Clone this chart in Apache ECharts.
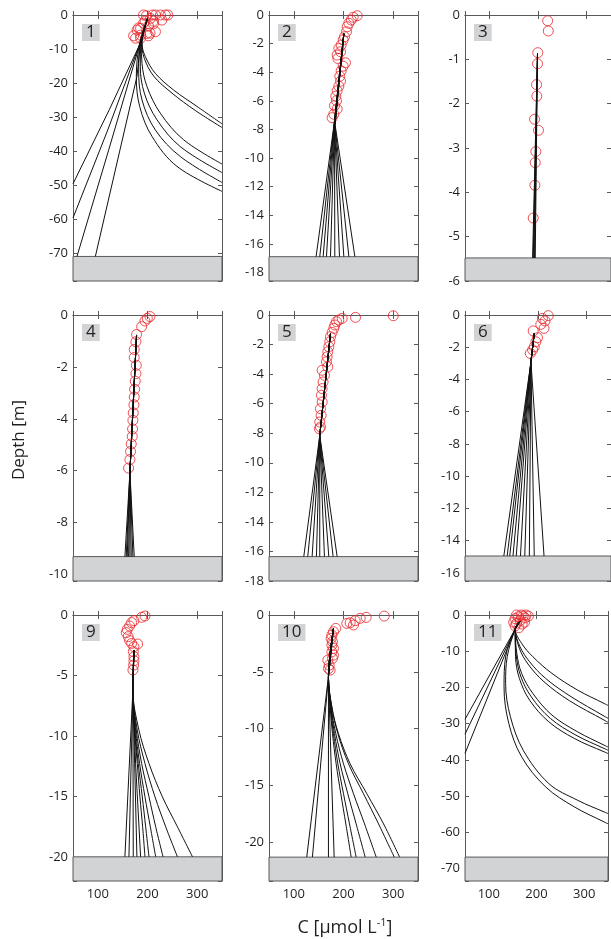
<!DOCTYPE html>
<html><head><meta charset="utf-8">
<script src="https://cdn.jsdelivr.net/npm/echarts@6/dist/echarts.min.js"></script>
<style>html,body{margin:0;padding:0;background:#fff}#c{width:611px;height:939px}</style>
</head><body><div id="c"></div>
<script>
// ---------------- data ----------------
const panelNames = ['1','2','3','4','5','6','9','10','11'];
const concRange = [50, 350];
const concTicks = [100, 200, 300];
const depthRange = [-78, -18.6, -6, -10.25, -18, -16.5, -22, -23.4, -73.4];
const depthStep  = [10, 2, 1, 2, 2, 2, 5, 5, 10];
const bedDepth   = [-70.8, -16.9, -5.48, -9.31, -16.35, -14.95, -20, -21.3, -66.8];

const p1Obs = [[192,0],[198,-0.2],[210,0],[216,0],[226,0],[236,0],[241,0],[195,-1.8],[206,-1],[212,-1.8],[229,-1.5],[192,-2.4],[212,-2.6],[182,-3.8],[202,-3.2],[186,-3.9],[216,-4.9],[179,-4.4],[199,-5.4],[205,-5.3],[186,-5.9],[172,-6.1],[202,-6.1],[186,-6.8],[176,-6.8]];
const p1Model = [
 [[200,-1],[185.5,-8.3],[123,-27.8],[50,-49.5]],
 [[200,-1],[185,-8.3],[120,-33.7],[50,-59.5]],
 [[200,-1],[185,-8.3],[122,-39.5],[58,-70.8]],
 [[200,-1],[186,-8.3],[178.8,-18],[95,-70.8]],
 [[200,-1],[188.9,-8.3],[195.6,-12.2],[215.7,-17.1],[252.6,-22],[299.6,-26.8],[350,-31.9]],
 [[200,-1],[188.9,-8.3],[193.6,-12.7],[212.4,-17.9],[249.3,-22.9],[296.3,-28],[350,-33]],
 [[200,-1],[187.6,-8.3],[188.9,-14.2],[199,-21],[225.8,-28.8],[272.8,-36.6],[350,-43.7]],
 [[200,-1],[186.9,-8.3],[185.5,-15.1],[193.6,-22.9],[219,-30.7],[266,-38.6],[350,-46.2]],
 [[200,-1],[185.5,-8.3],[182.2,-16.1],[188.9,-24.9],[215.7,-33.7],[266,-41.5],[350,-49.1]],
 [[200,-1],[184.2,-8.3],[177.5,-18],[184.2,-26.8],[209,-35.6],[259.4,-44.4],[350,-51.7]]
];

const p2Obs = [[227.6,-0.05],[219.5,-0.16],[215.5,-0.35],[210.8,-0.58],[207.4,-0.82],[206,-1.17],[202,-1.52],[199.3,-1.75],[195.3,-2.1],[190.6,-2.34],[194,-2.57],[187.2,-2.8],[188.6,-3.04],[204,-3.34],[199.3,-3.58],[195.3,-3.9],[192.6,-4.28],[194,-4.63],[190.6,-4.98],[187.2,-5.3],[184.5,-5.68],[185.9,-6],[181.8,-6.34],[187.2,-6.57],[180.5,-6.94],[177.1,-7.18]];
const p2Model = [
 [[200.7,-1.3],[180.8,-7.7],[144.8,-16.9]],
 [[200.7,-1.3],[181,-7.7],[152.2,-16.9]],
 [[200.7,-1.3],[181.2,-7.7],[159,-16.9]],
 [[200.7,-1.3],[181.5,-7.7],[165.7,-16.9]],
 [[200.7,-1.3],[181.7,-7.7],[173.8,-16.9]],
 [[200.7,-1.3],[182,-7.7],[182.5,-16.9]],
 [[200.7,-1.3],[182.2,-7.7],[191.9,-16.9]],
 [[200.7,-1.3],[182.5,-7.7],[200.7,-16.9]],
 [[200.7,-1.3],[182.8,-7.7],[210.8,-16.9]],
 [[200.7,-1.3],[183.2,-7.7],[222.9,-16.9]]
];

const p3Obs = [[219.8,-0.13],[221.1,-0.36],[199.6,-0.85],[199,-1.1],[197,-1.57],[197.6,-1.83],[192.9,-2.35],[201,-2.6],[195.6,-3.08],[194.3,-3.33],[193.6,-3.84],[190.2,-4.58]];
const p3Model = [
 [[199,-0.87],[188.9,-5.48]],
 [[199,-0.87],[190.2,-5.48]],
 [[199,-0.87],[191.6,-5.48]],
 [[199,-0.87],[192.9,-5.48]],
 [[199,-0.87],[194.3,-5.48]]
];

const p4Obs = [[205,-0.06],[199.6,-0.13],[194.9,-0.23],[188.2,-0.45],[178,-0.75],[176.7,-1.03],[173.3,-1.33],[173.3,-1.64],[177.4,-1.94],[176.7,-2.26],[175.4,-2.55],[174,-2.86],[173.3,-3.16],[172.7,-3.46],[171.3,-3.77],[170.6,-4.06],[170,-4.39],[169.3,-4.68],[167.3,-4.97],[165.9,-5.26],[164.6,-5.57],[161.9,-5.9]];
const p4Model = [
 [[178,-0.77],[164.6,-6.06],[154.5,-9.31]],
 [[178,-0.77],[164.6,-6.06],[157.2,-9.31]],
 [[178,-0.77],[164.6,-6.06],[159.2,-9.31]],
 [[178,-0.77],[164.6,-6.06],[161.9,-9.31]],
 [[178,-0.77],[164.6,-6.06],[164.6,-9.31]],
 [[178,-0.77],[164.6,-6.06],[167.3,-9.31]],
 [[178,-0.77],[164.6,-6.06],[170.6,-9.31]],
 [[178,-0.77],[164.6,-6.06],[173.3,-9.31]]
];

const p5Obs = [[300.2,-0.05],[224.2,-0.16],[197.3,-0.23],[190.6,-0.34],[185.9,-0.45],[182.5,-0.68],[180.5,-0.9],[177.1,-1.18],[173.8,-1.47],[172.4,-1.81],[170.4,-2.15],[168.4,-2.49],[167,-2.83],[165.7,-3.17],[168.4,-3.51],[157,-3.74],[161.6,-4.08],[158.9,-4.53],[157,-4.98],[155.6,-5.43],[157,-5.89],[153.6,-6.34],[155,-6.79],[152.2,-7.24],[153.6,-7.58],[151.5,-7.7]];
const p5Model = [
 [[173.8,-1.25],[152.2,-8.15],[120,-16.35]],
 [[173.8,-1.25],[152.2,-8.15],[128,-16.35]],
 [[173.8,-1.25],[152.2,-8.15],[136.8,-16.35]],
 [[173.8,-1.25],[152.2,-8.15],[145.5,-16.35]],
 [[173.8,-1.25],[152.2,-8.15],[152.2,-16.35]],
 [[173.8,-1.25],[152.2,-8.15],[161.6,-16.35]],
 [[173.8,-1.25],[152.2,-8.15],[170.4,-16.35]],
 [[173.8,-1.25],[152.2,-8.15],[179.1,-16.35]],
 [[173.8,-1.25],[152.2,-8.15],[187.2,-16.35]]
];

const p6Obs = [[221.1,-0.04],[209,-0.21],[214.4,-0.37],[205.7,-0.58],[212.4,-0.83],[190.2,-0.99],[199,-1.41],[195.6,-1.66],[192.3,-1.97],[188.9,-2.17],[184.2,-2.38]];
const p6Model = [
 [[192.3,-1.14],[185.5,-2.9],[129.8,-14.95]],
 [[192.3,-1.14],[185.5,-2.9],[136.6,-14.95]],
 [[192.3,-1.14],[185.5,-2.9],[141.9,-14.95]],
 [[192.3,-1.14],[185.5,-2.9],[148.6,-14.95]],
 [[192.3,-1.14],[185.5,-2.9],[155.3,-14.95]],
 [[192.3,-1.14],[185.5,-2.9],[164,-14.95]],
 [[192.3,-1.14],[185.5,-2.9],[172.8,-14.95]],
 [[192.3,-1.14],[185.5,-2.9],[182.2,-14.95]],
 [[192.3,-1.14],[185.5,-2.9],[192.3,-14.95]],
 [[192.3,-1.14],[185.5,-2.9],[212.4,-14.95]]
];

const p9Obs = [[194.9,-0.08],[188.2,-0.19],[172.7,-0.47],[168,-0.63],[164,-0.91],[159.2,-1.19],[157.2,-1.46],[161.2,-1.79],[164,-2.12],[168,-2.35],[180.1,-2.4],[172.7,-2.62],[171.4,-3.03],[172.7,-3.45],[172.7,-3.78],[172.1,-4.14],[170.7,-4.55]];
const p9Model = [
 [[172.7,-2.9],[170.6,-6.21],[154.5,-20]],
 [[172.7,-2.9],[170.6,-6.21],[162.6,-20]],
 [[172.7,-2.9],[170.6,-6.21],[171.3,-20]],
 [[172.7,-2.9],[170.6,-6.21],[178.7,-20]],
 [[172.7,-2.9],[170.6,-6.21],[176,-12.28],[186.1,-20]],
 [[172.7,-2.9],[170.6,-6.21],[174,-9.52],[179.4,-12.28],[184.8,-15.04],[190.2,-17.52],[194.9,-20]],
 [[172.7,-2.9],[170.6,-6.21],[174.7,-9.52],[181.4,-12.28],[189.5,-15.04],[196.3,-17.52],[203,-20]],
 [[172.7,-2.9],[170.6,-6.21],[176,-9.52],[184.1,-12.28],[194.9,-15.04],[205.7,-17.52],[216.5,-20]],
 [[172.7,-2.9],[170.6,-6.21],[177.4,-9.52],[188.2,-12.28],[203,-15.04],[216.5,-17.52],[231.3,-20]],
 [[172.7,-2.9],[170.6,-6.21],[179.4,-9.52],[194.9,-12.28],[215.1,-15.04],[236.7,-17.52],[260.3,-20]],
 [[172.7,-2.9],[170.6,-6.21],[182.8,-9.52],[203,-12.28],[230,-15.04],[260.3,-17.52],[290.6,-20]]
];

const p10Obs = [[282,-0.09],[245.7,-0.21],[233.6,-0.29],[223.5,-0.5],[213.4,-0.68],[206.7,-0.74],[220.1,-0.88],[184.5,-1.18],[179.8,-1.47],[176.5,-1.76],[175.1,-2.06],[177.8,-2.35],[176.5,-2.65],[179.8,-2.94],[176.5,-3.24],[179.8,-3.53],[177.8,-3.82],[168.4,-3.97],[171.1,-4.41],[169.7,-4.71],[173.1,-4.85]];
const p10Model = [
 [[179.8,-1.18],[169.7,-5.44],[126,-21.3]],
 [[179.8,-1.18],[169.7,-5.44],[137.4,-21.3]],
 [[179.8,-1.18],[169.7,-5.44],[169.7,-21.3]],
 [[179.8,-1.18],[169.7,-5.44],[175,-13],[181.2,-21.3]],
 [[179.8,-1.18],[169.7,-5.44],[173.1,-8.09],[177.8,-10.44],[185.2,-13.09],[194.6,-15.73],[204.7,-18.38],[215.5,-21.3]],
 [[179.8,-1.18],[169.7,-5.44],[173.8,-8.09],[179.8,-10.44],[188.6,-13.09],[200,-15.73],[212.1,-18.38],[225.5,-21.3]],
 [[179.8,-1.18],[169.7,-5.44],[174.4,-8.09],[181.8,-10.44],[193.3,-13.09],[208.7,-15.73],[225.5,-18.38],[243.7,-21.3]],
 [[179.8,-1.18],[169.7,-5.44],[175.1,-8.09],[184.5,-10.44],[200,-13.09],[220.2,-15.73],[242.4,-18.38],[265.9,-21.3]],
 [[179.8,-1.18],[169.7,-5.44],[176.5,-8.09],[188.6,-10.44],[210.1,-13.09],[240.3,-15.73],[270.6,-18.38],[302.2,-21.3]],
 [[179.8,-1.18],[169.7,-5.44],[176.5,-8.09],[189.9,-10.44],[213.4,-13.09],[247.1,-15.73],[280.7,-18.38],[313,-21.3]]
];

const p11Obs = [[158,0],[168,0],[178,0],[162,-0.5],[172,-0.3],[155,-1],[166,-1.5],[176,-0.8],[158,-2.3],[170,-2.5],[163,-3.5],[155,-3],[175,-2],[152,-2],[183,-0.3]];
const p11Model = [
 [[165,-1.8],[155.3,-3.9],[50,-28.8]],
 [[165,-1.8],[155.3,-3.9],[50,-32.9]],
 [[165,-1.8],[155.3,-3.9],[50,-38.2]],
 [[165,-1.8],[155.3,-3.9],[168.8,-7.83],[192.3,-11.51],[232.5,-16.12],[286.2,-20.72],[341.9,-24.41],[350,-24.96]],
 [[165,-1.8],[155.3,-3.9],[165.4,-8.75],[185.5,-12.89],[219.1,-17.5],[272.8,-22.56],[341.9,-27.9],[350,-28.5]],
 [[165,-1.8],[155.3,-3.9],[164.1,-9.21],[182.2,-13.54],[215.7,-18.42],[269.4,-23.67],[341.9,-29.01],[350,-29.6]],
 [[165,-1.8],[155.3,-3.9],[158.7,-10.59],[168.8,-16.12],[192.3,-21.64],[232.5,-27.63],[286.2,-32.24],[341.9,-35.92],[350,-36.45]],
 [[165,-1.8],[155.3,-3.9],[157.4,-11.05],[166.8,-16.85],[188.9,-22.56],[229.2,-28.55],[282.8,-33.16],[341.9,-36.84],[350,-37.3]],
 [[165,-1.8],[155.3,-3.9],[156,-11.51],[164.1,-17.5],[185.5,-23.49],[225.8,-29.47],[279.5,-34.08],[341.9,-37.76],[350,-38.2]],
 [[165,-1.8],[155.3,-3.9],[138.6,-11.51],[135.2,-18.88],[145.3,-28.09],[172.1,-37.3],[225.8,-46.51],[286.2,-51.12],[341.9,-54.34],[350,-54.8]],
 [[165,-1.8],[155.3,-3.9],[135.2,-11.51],[131.9,-19.8],[141.9,-29.93],[168.8,-39.14],[219.1,-47.43],[279.5,-52.96],[341.9,-57.1],[350,-57.6]]
];

const observed = [p1Obs, p2Obs, p3Obs, p4Obs, p5Obs, p6Obs, p9Obs, p10Obs, p11Obs];
const modelled = [p1Model, p2Model, p3Model, p4Model, p5Model, p6Model, p9Model, p10Model, p11Model];

// ---------------- layout & style ----------------
const colLeft = [73, 269, 465], rowTop = [15, 315, 615], PW = 149, PH = 266;
const FONT = 'Open Sans';
const frameColor = '#58595b', textColor = '#231f20', obsColor = '#e8262b', bedColor = '#d1d3d4';

const grid = [], xAxis = [], yAxis = [], series = [], title = [];
const isMultiple = (v, s) => Math.abs(v / s - Math.round(v / s)) < 1e-6;
const concStep = concTicks[1] - concTicks[0];

panelNames.forEach((name, i) => {
  const r = Math.floor(i / 3), c = i % 3;
  grid.push({ left: colLeft[c], top: rowTop[r], width: PW, height: PH, containLabel: false });
  const line = { show: true, lineStyle: { color: frameColor, width: 1 } };
  const tick = { show: true, inside: true, length: 4, lineStyle: { color: frameColor, width: 1 } };
  const baseX = { gridIndex: i, type: 'value', min: concRange[0], max: concRange[1],
    minInterval: concStep, maxInterval: concStep, splitLine: { show: false }, axisLine: line, axisTick: tick };
  xAxis.push(Object.assign({}, baseX, { position: 'bottom',
    axisLabel: { show: r === 2, margin: 7, color: textColor, fontFamily: FONT, fontSize: 13,
      formatter: v => concTicks.indexOf(v) >= 0 ? String(v) : '' } }));
  xAxis.push(Object.assign({}, baseX, { position: 'top', axisLabel: { show: false } }));
  const st = depthStep[i];
  const baseY = { gridIndex: i, type: 'value', min: depthRange[i], max: 0,
    minInterval: st, maxInterval: st, splitLine: { show: false }, axisLine: line, axisTick: tick };
  yAxis.push(Object.assign({}, baseY, { position: 'left',
    axisLabel: { show: true, margin: 5, color: textColor, fontFamily: FONT, fontSize: 13,
      formatter: v => isMultiple(v, st) ? String(Math.round(v / st) * st) : '' } }));
  yAxis.push(Object.assign({}, baseY, { position: 'right', axisLabel: { show: false } }));

  series.push({
    type: 'scatter', xAxisIndex: 2 * i, yAxisIndex: 2 * i, data: observed[i], clip: false,
    symbol: 'circle', symbolSize: 10, z: 3,
    itemStyle: { color: 'rgba(0,0,0,0)', borderColor: obsColor, borderWidth: 1 },
    markArea: { silent: true, itemStyle: { color: bedColor, borderColor: frameColor, borderWidth: 1 },
      data: [[{ yAxis: bedDepth[i] }, { yAxis: depthRange[i] }]] }
  });
  modelled[i].forEach(curve => {
    series.push({ type: 'line', xAxisIndex: 2 * i, yAxisIndex: 2 * i, data: curve,
      showSymbol: false, symbol: 'none', smooth: curve.length > 4 ? 0.35 : false,
      lineStyle: { color: '#111', width: 1 }, z: 4, silent: true });
  });
  title.push({ text: name, left: colLeft[c] + 9, top: rowTop[r] + 9,
    backgroundColor: bedColor, padding: [0, 4, 0, 4],
    textStyle: { fontFamily: FONT, fontSize: 17, fontWeight: 'normal', color: textColor, lineHeight: 17 } });
});

const chart = echarts.init(document.getElementById('c'), null, { renderer: 'canvas' });
chart.setOption({
  animation: false, backgroundColor: '#fff',
  title, grid, xAxis, yAxis, series,
  graphic: [
    { type: 'text', x: 19, y: 440, rotation: Math.PI / 2,
      style: { text: 'Depth [m]', fontFamily: FONT, fontSize: 17, fill: textColor, align: 'center', verticalAlign: 'middle' } },
    { type: 'text', x: 345, y: 928,
      style: { text: '{n|C [µmol L}{s|-1}{n|]}', align: 'center', verticalAlign: 'middle', fill: textColor,
        rich: { n: { fontFamily: FONT, fontSize: 18, lineHeight: 22, fill: textColor },
                s: { fontFamily: FONT, fontSize: 11, lineHeight: 12, verticalAlign: 'top', fill: textColor } } } }
  ]
});
</script></body></html>
